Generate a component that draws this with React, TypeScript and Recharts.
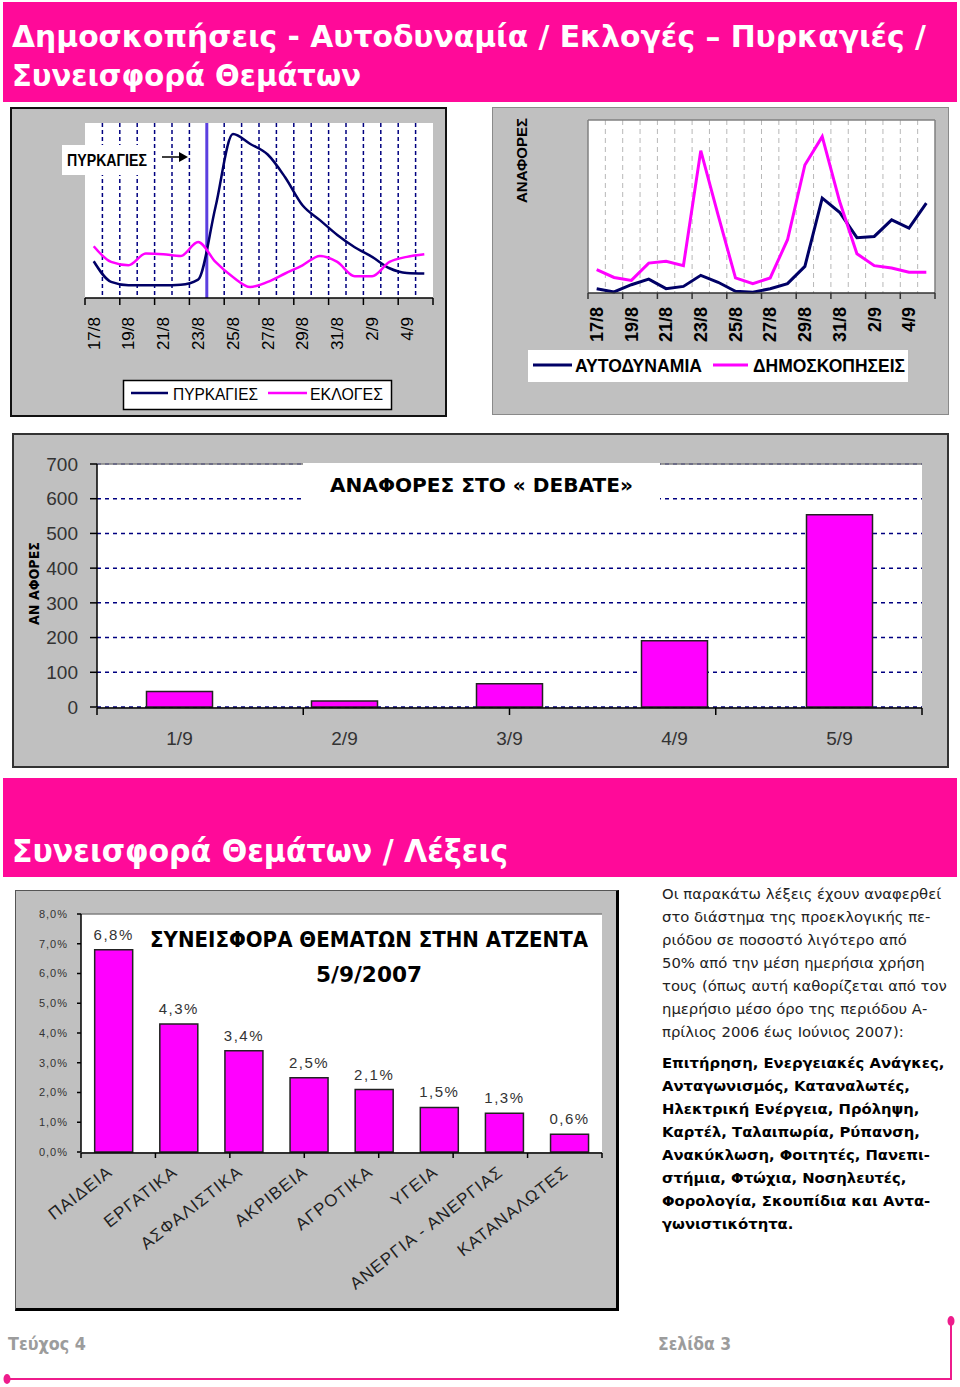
import React from 'react';
import { LineChart, Line, BarChart, Bar, XAxis, YAxis, CartesianGrid, ReferenceLine, LabelList } from 'recharts';

// one category per day, 17/8 – 5/9
const days = ['17/8', '18/8', '19/8', '20/8', '21/8', '22/8', '23/8', '24/8', '25/8', '26/8', '27/8', '28/8', '29/8', '30/8', '31/8', '1/9', '2/9', '3/9', '4/9', '5/9'];
const fireStartDay = '24/8';

// top-left chart (no y scale shown, relative 0-100)
const fires = [21, 9.2, 7.3, 7.3, 7.3, 7.6, 10.5, 52, 93.7, 88, 82, 69, 53, 44.5, 36, 29, 23.5, 17, 14.3, 14];
const elections = [29.6, 20.6, 18.7, 25.4, 25, 24, 32, 20.6, 12, 6.3, 9.2, 14, 18.7, 24, 20.6, 12.4, 12.4, 20.6, 23.5, 25];

// top-right chart
const majority = [2.5, 0.6, 4.8, 8, 2.5, 3.8, 10.2, 6.2, 1, 0.4, 2.5, 5.4, 15.4, 54.8, 46.7, 32, 32.7, 42.3, 37.5, 52];
const polls = [13.5, 9, 7.3, 17.3, 18.3, 15.8, 82.3, 45, 8.7, 5.4, 8.7, 30.8, 74, 90.4, 53, 22.7, 15.8, 14.4, 12, 12];

// debate chart
const debateDays = ['1/9', '2/9', '3/9', '4/9', '5/9'];
const debateMentions = [45, 17, 67, 191, 554];
const debateTicks = [0, 100, 200, 300, 400, 500, 600, 700];

// topics chart
const topics = ['ΠΑΙΔΕΙΑ', 'ΕΡΓΑΤΙΚΑ', 'ΑΣΦΑΛΙΣΤΙΚΑ', 'ΑΚΡΙΒΕΙΑ', 'ΑΓΡΟΤΙΚΑ', 'ΥΓΕΙΑ', 'ΑΝΕΡΓΙΑ - ΑΝΕΡΓΙΑΣ', 'ΚΑΤΑΝΑΛΩΤΕΣ'];
const topicShares = [6.8, 4.3, 3.4, 2.5, 2.1, 1.5, 1.3, 0.6];
const shareTicks = [0, 1, 2, 3, 4, 5, 6, 7, 8];

const noteLines = [
  'Οι παρακάτω λέξεις έχουν αναφερθεί',
  'στο διάστημα της προεκλογικής πε-',
  'ριόδου σε ποσοστό λιγότερο από',
  '50% από την μέση ημερήσια χρήση',
  'τους (όπως αυτή καθορίζεται από τον',
  'ημερήσιο μέσο όρο της περιόδου Α-',
  'πρίλιος 2006 έως Ιούνιος 2007):',
];
const wordLines = [
  'Επιτήρηση, Ενεργειακές Ανάγκες,',
  'Ανταγωνισμός, Καταναλωτές,',
  'Ηλεκτρική Ενέργεια, Πρόληψη,',
  'Καρτέλ, Ταλαιπωρία, Ρύπανση,',
  'Ανακύκλωση, Φοιτητές, Πανεπι-',
  'στήμια, Φτώχια, Νοσηλευτές,',
  'Φορολογία, Σκουπίδια και Αντα-',
  'γωνιστικότητα.',
];

const PINK = '#FF0A99';
const NAVY = '#000066';
const MAGENTA = '#FF00FF';
const GREY = '#C0C0C0';
const ARIAL = '"Liberation Sans", Arial, sans-serif';
const COND = '"DejaVu Sans Condensed", "DejaVu Sans", sans-serif';
const VERDANA = '"DejaVu Sans", Verdana, sans-serif';

const fireRows = days.map((day, i) => ({ x: i + 0.5, day, fires: fires[i], elections: elections[i] }));
const pollRows = days.map((day, i) => ({ x: i + 0.5, day, majority: majority[i], polls: polls[i] }));
const debateRows = debateDays.map((day, i) => ({ day, mentions: debateMentions[i] }));
const topicRows = topics.map((topic, i) => ({ topic, share: topicShares[i] }));

const dayCount = days.length;
const boundaries = days.slice(1).map((_, i) => i + 1);
const evenBoundaries = days.map((_, i) => i).filter((i) => i % 2 === 0).concat(dayCount);
const labelTicks = days.map((_, i) => i + 0.5).filter((_, i) => i % 2 === 0);

const fmtPct = (v: number) => `${v.toFixed(1).replace('.', ',')}%`;

const dayTick = (gap: number, bold: boolean, size: number) => (props: any) => {
  const { x, y, payload } = props;
  const ty = y + gap;
  return (
    <text x={x} y={ty} dy="0.35em" textAnchor="end" transform={`rotate(-90, ${x}, ${ty})`}
      fontFamily={ARIAL} fontSize={size} fontWeight={bold ? 'bold' : 'normal'} fill="#000">
      {days[Math.floor(payload.value)]}
    </text>
  );
};

const debateTick = (props: any) => {
  const { x, y, payload } = props;
  return (
    <text x={x} y={y + 29} dy="0.35em" textAnchor="middle" fontFamily={ARIAL} fontSize={19} fill="#333">
      {payload.value}
    </text>
  );
};

const topicTick = (props: any) => {
  const { x, y, payload } = props;
  const ty = y + 20;
  return (
    <text x={x} y={ty} textAnchor="end" transform={`rotate(-38, ${x}, ${ty})`}
      fontFamily={ARIAL} fontSize={17} letterSpacing={1.2} fill="#222">
      {payload.value}
    </text>
  );
};

const box = (left: number, top: number, width: number, height: number, extra: React.CSSProperties = {}) => (
  <div style={{ position: 'absolute', left, top, width, height, background: GREY, boxSizing: 'border-box', ...extra }} />
);

const at = (left: number, top: number, child: React.ReactNode) => (
  <div style={{ position: 'absolute', left, top }}>{child}</div>
);

export default function App() {
  return (
    <div style={{ position: 'absolute', left: 0, top: 0, width: 960, height: 1387, background: '#fff', overflow: 'hidden' }}>
      {/* pink bands */}
      <div style={{ position: 'absolute', left: 3, top: 2, width: 954, height: 100, background: PINK }} />
      <div style={{ position: 'absolute', left: 3, top: 778, width: 954, height: 99, background: PINK }} />

      {box(10, 107, 437, 310, { border: '2px solid #111' })}
      {box(492, 107, 457, 308, { border: '1.5px solid #8a8a8a' })}
      {box(12, 433, 937, 335, { border: '2px solid #333' })}
      {box(15, 890, 604, 421, { borderTop: '1px solid #555', borderLeft: '1px solid #555', borderRight: '3px solid #000', borderBottom: '3px solid #000' })}

      {/* fires vs elections */}
      {at(10, 107,
        <LineChart width={437} height={310} data={fireRows} margin={{ top: 16, right: 14, bottom: 117, left: 75 }}>
          <CartesianGrid horizontal={false} verticalValues={boundaries} stroke="#000080" strokeDasharray="4 3" strokeWidth={1.5} fill="#fff" fillOpacity={1} />
          <XAxis dataKey="x" type="number" domain={[0, dayCount]} allowDataOverflow ticks={evenBoundaries} interval={0} height={1}
            tickSize={7} tickFormatter={() => ''} axisLine={{ stroke: '#000', strokeWidth: 1.5 }} tickLine={{ stroke: '#000', strokeWidth: 1.5 }} />
          <XAxis xAxisId="lab" dataKey="x" type="number" domain={[0, dayCount]} allowDataOverflow ticks={labelTicks} interval={0} height={1}
            tickSize={0} axisLine={false} tickLine={false} tick={dayTick(16, false, 17)} />
          <YAxis hide width={0} domain={[0, 100]} />
          <ReferenceLine x={days.indexOf(fireStartDay)} stroke="#5B3FE0" strokeWidth={3} />
          <Line type="monotone" dataKey="fires" stroke={NAVY} strokeWidth={2.5} dot={false} isAnimationActive={false} />
          <Line type="monotone" dataKey="elections" stroke={MAGENTA} strokeWidth={2.5} dot={false} isAnimationActive={false} />
        </LineChart>
      )}

      {/* majority vs polls */}
      {at(492, 107,
        <LineChart width={457} height={308} data={pollRows} margin={{ top: 13, right: 14, bottom: 120, left: 96 }}>
          <CartesianGrid horizontal={false} verticalValues={boundaries} stroke="#b8b8b8" strokeDasharray="5 4" strokeWidth={1} fill="#fff" fillOpacity={1} />
          <XAxis dataKey="x" type="number" domain={[0, dayCount]} allowDataOverflow ticks={evenBoundaries} interval={0} height={1}
            tickSize={6} tickFormatter={() => ''} axisLine={{ stroke: '#333', strokeWidth: 1.5 }} tickLine={{ stroke: '#333', strokeWidth: 1.5 }} />
          <XAxis xAxisId="lab" dataKey="x" type="number" domain={[0, dayCount]} allowDataOverflow ticks={labelTicks} interval={0} height={1}
            tickSize={0} axisLine={false} tickLine={false} tick={dayTick(11, true, 18)} />
          <YAxis hide width={0} domain={[0, 100]} />
          <ReferenceLine y={100} stroke="#808080" strokeWidth={1.5} />
          <ReferenceLine x={0} stroke="#808080" strokeWidth={1.5} />
          <ReferenceLine x={dayCount} stroke="#808080" strokeWidth={1.5} />
          <Line type="linear" dataKey="majority" stroke={NAVY} strokeWidth={3} dot={false} isAnimationActive={false} />
          <Line type="linear" dataKey="polls" stroke={MAGENTA} strokeWidth={3} dot={false} isAnimationActive={false} />
        </LineChart>
      )}

      {/* debate mentions */}
      {at(12, 433,
        <BarChart width={937} height={335} data={debateRows} margin={{ top: 31, right: 27, bottom: 59, left: 25 }} barCategoryGap="30%">
          <CartesianGrid vertical={false} stroke="#000080" strokeDasharray="4 4" strokeWidth={1.5} fill="#fff" fillOpacity={1} />
          <XAxis xAxisId="b" type="number" domain={[0, debateDays.length]} allowDataOverflow ticks={debateDays.map((_, i) => i).concat(debateDays.length)}
            interval={0} height={1} tickSize={7} tickFormatter={() => ''} axisLine={{ stroke: '#000', strokeWidth: 1.5 }} tickLine={{ stroke: '#000', strokeWidth: 1.5 }} />
          <XAxis dataKey="day" height={1} tickSize={0} axisLine={false} tickLine={false} interval={0} tick={debateTick} />
          <YAxis width={60} domain={[0, 700]} ticks={debateTicks} interval={0} tickSize={7} tickMargin={12}
            axisLine={{ stroke: '#000', strokeWidth: 1.5 }} tickLine={{ stroke: '#000', strokeWidth: 1.5 }}
            tick={{ fill: '#333', fontSize: 19, fontFamily: ARIAL }} />
          <ReferenceLine y={700} stroke="#808080" strokeWidth={1.5} />
          <ReferenceLine xAxisId="b" x={debateDays.length} stroke="#808080" strokeWidth={1.5} />
          <Bar dataKey="mentions" fill={MAGENTA} stroke="#222" strokeWidth={1.5} isAnimationActive={false} />
        </BarChart>
      )}

      {/* topic shares */}
      {at(15, 890,
        <BarChart width={604} height={421} data={topicRows} margin={{ top: 24, right: 17, bottom: 157, left: 16 }} barCategoryGap="21%">
          <CartesianGrid horizontal={false} vertical={false} fill="#fff" fillOpacity={1} />
          <XAxis xAxisId="b" type="number" domain={[0, topics.length]} allowDataOverflow ticks={topics.map((_, i) => i).concat(topics.length)}
            interval={0} height={1} tickSize={5} tickFormatter={() => ''} axisLine={{ stroke: '#000', strokeWidth: 1.5 }} tickLine={{ stroke: '#000', strokeWidth: 1.5 }} />
          <XAxis dataKey="topic" height={1} tickSize={0} axisLine={false} tickLine={false} interval={0} tick={topicTick} />
          <YAxis width={50} domain={[0, 8]} ticks={shareTicks} interval={0} tickSize={4} tickMargin={9} tickFormatter={fmtPct}
            axisLine={{ stroke: '#000', strokeWidth: 1.5 }} tickLine={{ stroke: '#000', strokeWidth: 1.5 }}
            tick={{ fill: '#333', fontSize: 11, fontFamily: ARIAL, letterSpacing: 1 }} />
          <ReferenceLine y={8} stroke="#808080" strokeWidth={1.5} />
          <ReferenceLine xAxisId="b" x={topics.length} stroke="#808080" strokeWidth={1.5} />
          <Bar dataKey="share" fill={MAGENTA} stroke="#222" strokeWidth={1.5} isAnimationActive={false}>
            <LabelList dataKey="share" position="top" offset={10} formatter={(v: any) => fmtPct(Number(v))}
              fill="#333" fontSize={15} fontFamily={ARIAL} letterSpacing={1.5} />
          </Bar>
        </BarChart>
      )}

      {/* texts, legends, annotations */}
      <svg width={960} height={1387} style={{ position: 'absolute', left: 0, top: 0, pointerEvents: 'none' }}>
        <g fill="#fff" fontFamily={COND} fontWeight="bold" fontSize={30} style={{ whiteSpace: 'pre' }}>
          <text x={12} y={47} textLength={914} lengthAdjust="spacingAndGlyphs">Δημοσκοπήσεις - Αυτοδυναμία  / Εκλογές – Πυρκαγιές  /</text>
          <text x={12} y={86} textLength={349} lengthAdjust="spacingAndGlyphs">Συνεισφορά Θεμάτων</text>
          <text x={12} y={862} fontSize={32} textLength={496} lengthAdjust="spacingAndGlyphs">Συνεισφορά Θεμάτων / Λέξεις</text>
        </g>

        {/* fires annotation */}
        <rect x={62} y={145} width={91} height={30} fill="#fff" />
        <text x={67} y={166} fontFamily={ARIAL} fontWeight="bold" fontSize={17} textLength={80} lengthAdjust="spacingAndGlyphs">ΠΥΡΚΑΓΙΕΣ</text>
        <line x1={162} y1={157} x2={180} y2={157} stroke="#000" strokeWidth={1.5} />
        <polygon points="179,152 188,157 179,162" fill="#000" />

        {/* legend 1 */}
        <rect x={123.5} y={380.5} width={268} height={29} fill="#fff" stroke="#000" strokeWidth={1.5} />
        <line x1={131} y1={393} x2={168} y2={393} stroke={NAVY} strokeWidth={2.5} />
        <text x={173} y={400} fontFamily={ARIAL} fontSize={17} textLength={85} lengthAdjust="spacingAndGlyphs">ΠΥΡΚΑΓΙΕΣ</text>
        <line x1={268} y1={393} x2={307} y2={393} stroke={MAGENTA} strokeWidth={2.5} />
        <text x={310} y={400} fontFamily={ARIAL} fontSize={17} textLength={73} lengthAdjust="spacingAndGlyphs">ΕΚΛΟΓΕΣ</text>

        {/* legend 2 */}
        <rect x={528} y={350} width={380} height={32} fill="#fff" />
        <line x1={533} y1={365} x2={572} y2={365} stroke={NAVY} strokeWidth={3} />
        <text x={575} y={372} fontFamily={ARIAL} fontWeight="bold" fontSize={18} textLength={127} lengthAdjust="spacingAndGlyphs">ΑΥΤΟΔΥΝΑΜΙΑ</text>
        <line x1={713} y1={365} x2={748} y2={365} stroke={MAGENTA} strokeWidth={3} />
        <text x={753} y={372} fontFamily={ARIAL} fontWeight="bold" fontSize={18} textLength={152} lengthAdjust="spacingAndGlyphs">ΔΗΜΟΣΚΟΠΗΣΕΙΣ</text>

        {/* y labels */}
        <text x={527} y={203} transform="rotate(-90, 527, 203)" fontFamily={ARIAL} fontWeight="bold" fontSize={15} textLength={85} lengthAdjust="spacingAndGlyphs">ΑΝΑΦΟΡΕΣ</text>
        <text x={39} y={625} transform="rotate(-90, 39, 625)" fontFamily={VERDANA} fontWeight="bold" fontSize={14} textLength={83} lengthAdjust="spacingAndGlyphs" style={{ whiteSpace: 'pre' }}>ΑΝ ΑΦΟΡΕΣ</text>

        {/* debate title */}
        <rect x={303} y={463} width={357} height={42} fill="#fff" />
        <text x={330} y={492} fontFamily={VERDANA} fontWeight="bold" fontSize={20} textLength={303} lengthAdjust="spacingAndGlyphs">ΑΝΑΦΟΡΕΣ ΣΤΟ « DEBATE»</text>

        {/* topics title */}
        <text x={150} y={947} fontFamily={VERDANA} fontWeight="bold" fontSize={21} textLength={438} lengthAdjust="spacingAndGlyphs">ΣΥΝΕΙΣΦΟΡΑ ΘΕΜΑΤΩΝ ΣΤΗΝ ΑΤΖΕΝΤΑ</text>
        <text x={316} y={982} fontFamily={VERDANA} fontWeight="bold" fontSize={21} textLength={106} lengthAdjust="spacingAndGlyphs">5/9/2007</text>

        {/* footer */}
        <g fill="#9c9c9c" fontFamily={COND} fontWeight="bold" fontSize={17}>
          <text x={8} y={1350} textLength={78} lengthAdjust="spacingAndGlyphs">Τεύχος 4</text>
          <text x={658} y={1350} textLength={73} lengthAdjust="spacingAndGlyphs">Σελίδα 3</text>
        </g>
        <polyline points="7,1379 951,1379 951,1321" fill="none" stroke="#EE1C8C" strokeWidth={2} />
        <ellipse cx={7} cy={1379} rx={3.5} ry={5} fill="#EE1C8C" />
        <ellipse cx={951} cy={1321} rx={3.5} ry={5} fill="#EE1C8C" />
      </svg>

      {/* note text */}
      <div style={{ position: 'absolute', left: 662, top: 882, fontFamily: VERDANA, fontSize: 14.8, lineHeight: '23px', color: '#222', whiteSpace: 'pre' }}>
        {noteLines.map((l, i) => <div key={i}>{l}</div>)}
        <div style={{ marginTop: 8, fontWeight: 'bold', color: '#000' }}>
          {wordLines.map((l, i) => <div key={i}>{l}</div>)}
        </div>
      </div>
    </div>
  );
}
